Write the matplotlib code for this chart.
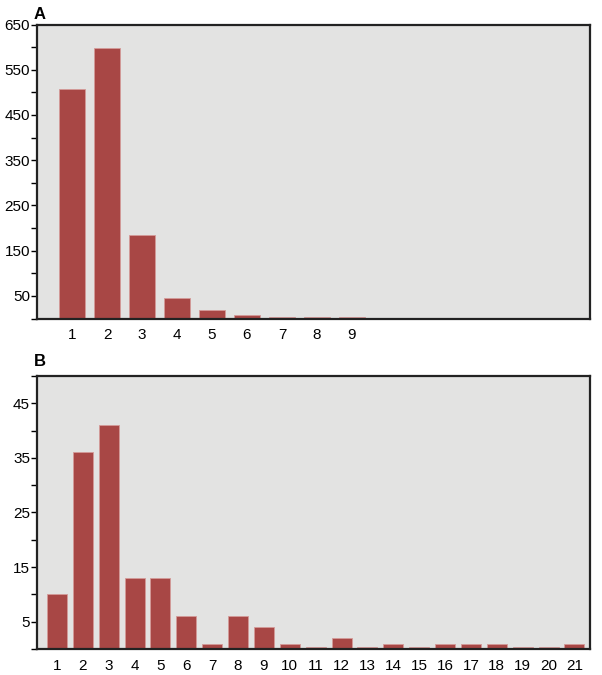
import matplotlib.pyplot as plt
import numpy as np
from matplotlib.ticker import MultipleLocator

plt.rcParams['font.family'] = ['Liberation Sans', 'DejaVu Sans']

# Panel A
a_cats = [1, 2, 3, 4, 5, 6, 7, 8, 9]
a_vals = [508, 598, 184, 45, 20, 9, 4, 3, 4]

# Panel B
b_cats = list(range(1, 22))
b_vals = [10, 36, 41, 13, 13, 6, 1, 6, 4, 1, 0.4, 2, 0.4, 1, 0.4, 1, 1, 1, 0.4, 0.4, 1]

BAR = '#a84745'
EDGE = '#d49a98'
BG = '#e3e3e2'


def style_axes(ax):
    ax.set_facecolor(BG)
    for s in ax.spines.values():
        s.set_linewidth(1.6)
        s.set_color('#222222')
    ax.tick_params(axis='x', length=0, labelsize=11, pad=7)
    ax.tick_params(axis='y', which='both', direction='out', labelsize=11,
                   length=4, width=1, pad=1)


def draw_bars(ax, cats, vals):
    ax.bar(cats, vals, width=0.77, color=BAR, edgecolor=EDGE, linewidth=0.6)
    ax.set_xticks(cats)


fig = plt.figure(figsize=(6.02, 6.75), dpi=100)

ax1 = fig.add_axes([0.0615, 0.528, 0.9185, 0.4357])
draw_bars(ax1, a_cats, a_vals)
ax1.set_xlim(0.0, 15.8)
ax1.set_ylim(0, 650)
ax1.set_yticks(np.arange(50, 651, 100))
ax1.yaxis.set_minor_locator(MultipleLocator(50))
style_axes(ax1)
fig.text(0.056, 0.99, 'A', fontsize=12, fontweight='bold', va='top')

ax2 = fig.add_axes([0.0615, 0.0385, 0.9185, 0.4045])
draw_bars(ax2, b_cats, b_vals)
ax2.set_xlim(0.23, 21.6)
ax2.set_ylim(0, 50)
ax2.set_yticks(np.arange(5, 46, 10))
ax2.yaxis.set_minor_locator(MultipleLocator(5))
style_axes(ax2)
fig.text(0.056, 0.476, 'B', fontsize=12, fontweight='bold', va='top')

fig.savefig('out.png', dpi=100)
